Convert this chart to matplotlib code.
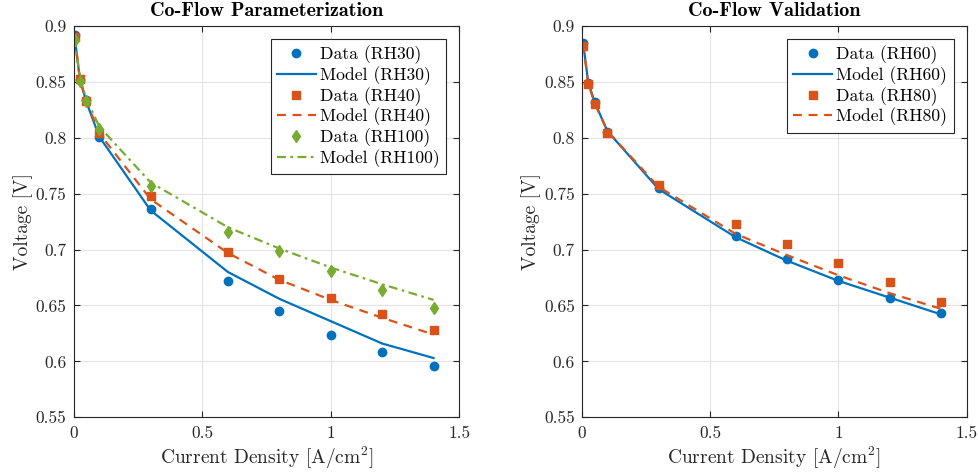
import matplotlib
matplotlib.use("Agg")
import matplotlib.pyplot as plt
from matplotlib.ticker import FuncFormatter

plt.rcParams['font.family'] = 'serif'
plt.rcParams['font.serif'] = ['cmr10']
plt.rcParams['mathtext.fontset'] = 'cm'
plt.rcParams['axes.formatter.use_mathtext'] = True

BLUE = '#0072BD'
ORANGE = '#D95319'
GREEN = '#77AC30'

# current density [A/cm^2]
current = [0.005, 0.025, 0.05, 0.1, 0.3, 0.6, 0.8, 1.0, 1.2, 1.4]

# parameterization set
data_rh30 = [0.892, 0.852, 0.834, 0.801, 0.736, 0.672, 0.645, 0.624, 0.608, 0.596]
model_rh30 = [0.889, 0.852, 0.832, 0.801, 0.735, 0.680, 0.656, 0.636, 0.616, 0.603]
data_rh40 = [0.890, 0.853, 0.833, 0.804, 0.748, 0.698, 0.674, 0.657, 0.642, 0.628]
model_rh40 = [0.889, 0.852, 0.833, 0.804, 0.745, 0.697, 0.673, 0.655, 0.639, 0.624]
data_rh100 = [0.8875, 0.851, 0.833, 0.808, 0.757, 0.716, 0.699, 0.681, 0.664, 0.648]
model_rh100 = [0.889, 0.853, 0.835, 0.810, 0.760, 0.720, 0.701, 0.684, 0.669, 0.655]

# validation set
data_rh60 = [0.885, 0.849, 0.832, 0.805, 0.755, 0.712, 0.692, 0.673, 0.657, 0.643]
model_rh60 = [0.886, 0.850, 0.832, 0.806, 0.754, 0.711, 0.690, 0.672, 0.657, 0.642]
data_rh80 = [0.882, 0.848, 0.830, 0.804, 0.758, 0.723, 0.705, 0.688, 0.671, 0.653]
model_rh80 = [0.884, 0.849, 0.831, 0.806, 0.756, 0.714, 0.695, 0.677, 0.661, 0.647]

xticks = [0, 0.5, 1, 1.5]
yticks = [0.55, 0.6, 0.65, 0.7, 0.75, 0.8, 0.85, 0.9]

fig = plt.figure(figsize=(9.79, 4.73), dpi=100)
ax1 = fig.add_axes([0.0751, 0.1178, 0.394, 0.8273])
ax2 = fig.add_axes([0.5942, 0.1178, 0.3933, 0.8273])

ms = 6
lw = 1.6

ax1.plot(current, data_rh30, 'o', color=BLUE, ms=ms, label='Data (RH30)')
ax1.plot(current, model_rh30, '-', color=BLUE, lw=lw, label='Model (RH30)')
ax1.plot(current, data_rh40, 's', color=ORANGE, ms=ms - 0.5, label='Data (RH40)')
ax1.plot(current, model_rh40, '--', color=ORANGE, lw=lw, dashes=(4, 3), label='Model (RH40)')
ax1.plot(current, data_rh100, 'd', color=GREEN, ms=ms + 0.5, label='Data (RH100)')
ax1.plot(current, model_rh100, '-.', color=GREEN, lw=lw, dashes=(4, 2, 1.2, 2), label='Model (RH100)')
ax1.set_title('Co-Flow Parameterization', fontsize=14.5, fontfamily='cmb10', pad=7)

ax2.plot(current, data_rh60, 'o', color=BLUE, ms=ms, label='Data (RH60)')
ax2.plot(current, model_rh60, '-', color=BLUE, lw=lw, label='Model (RH60)')
ax2.plot(current, data_rh80, 's', color=ORANGE, ms=ms - 0.5, label='Data (RH80)')
ax2.plot(current, model_rh80, '--', color=ORANGE, lw=lw, dashes=(4, 3), label='Model (RH80)')
ax2.set_title('Co-Flow Validation', fontsize=14.5, fontfamily='cmb10', pad=7)

fmt = FuncFormatter(lambda v, p: '%g' % round(v, 3))
for ax in (ax1, ax2):
    ax.set_xlim(0, 1.5)
    ax.set_ylim(0.55, 0.9)
    ax.set_xticks(xticks)
    ax.set_yticks(yticks)
    ax.xaxis.set_major_formatter(fmt)
    ax.yaxis.set_major_formatter(fmt)
    ax.tick_params(direction='in', top=True, right=True, labelsize=12.5,
                   color='#262626', labelcolor='#262626', length=4)
    ax.tick_params(axis='y', pad=5)
    ax.tick_params(axis='x', pad=6)
    ax.grid(True, color='#e3e3e3', lw=0.8)
    ax.set_axisbelow(True)
    for sp in ax.spines.values():
        sp.set_color('#262626')
        sp.set_linewidth(0.8)
    ax.set_xlabel('Current Density [A/cm$^2$]', fontsize=14, color='#262626', labelpad=3)
    ax.set_ylabel('Voltage [V]', fontsize=14, color='#262626', labelpad=2)
    leg = ax.legend(loc='upper right', fontsize=12.7, fancybox=False, framealpha=1,
                    edgecolor='#262626', borderaxespad=0.75, handlelength=2.2,
                    labelspacing=0.12, borderpad=0.35, handletextpad=0.25)
    leg.get_frame().set_linewidth(0.8)

fig.savefig('out.png', dpi=100)
